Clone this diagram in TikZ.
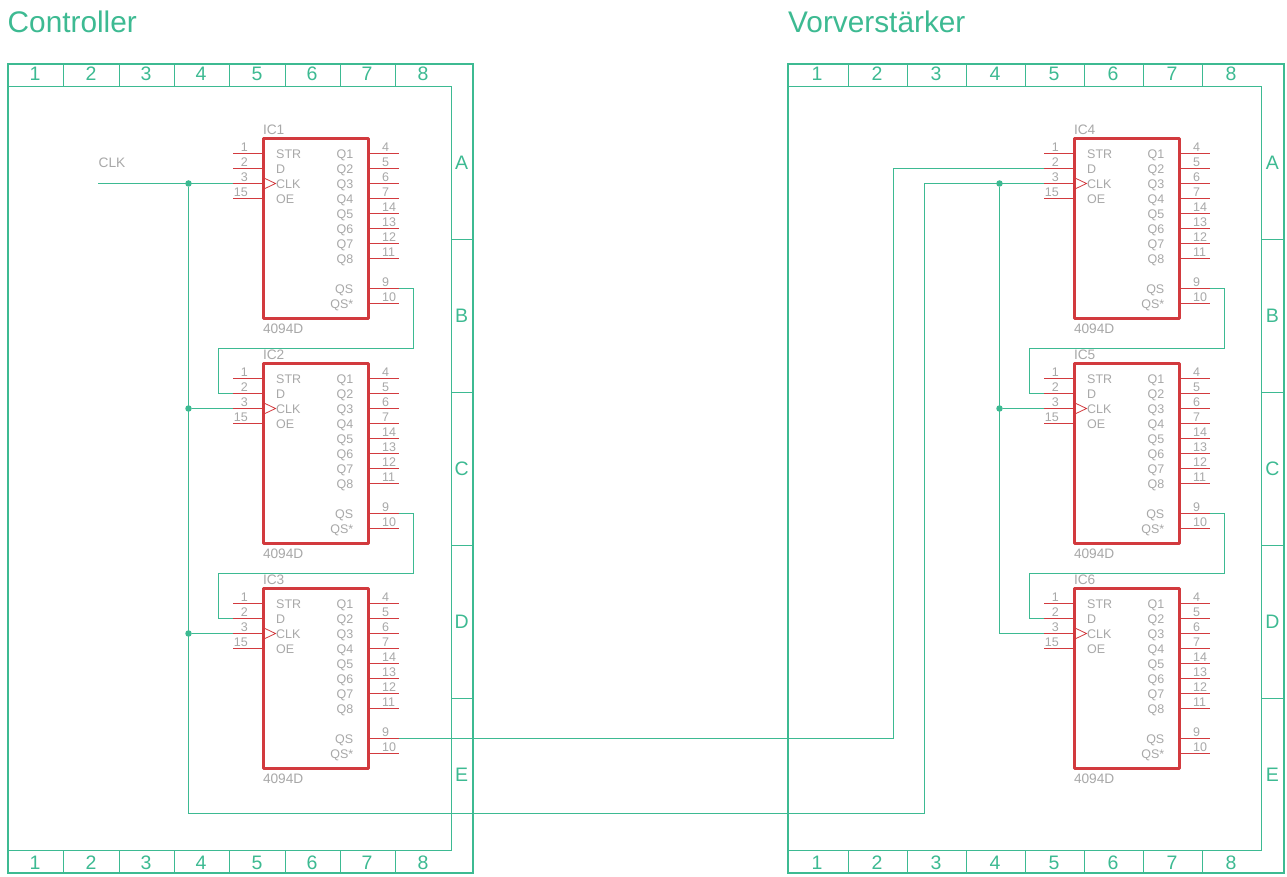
\documentclass[tikz,border=0pt]{standalone}
\usepackage{fontspec}
\setmainfont{Liberation Sans}
\definecolor{sheet}{HTML}{3DBA92}
\definecolor{part}{HTML}{D23A3E}
\definecolor{lbl}{HTML}{A8A8A8}
\tikzset{
  frameouter/.style={draw=sheet,line width=2pt},
  frameinner/.style={draw=sheet,line width=1pt},
  wire/.style={draw=sheet,line width=1pt},
  pin/.style={draw=part,line width=1pt},
  clkmark/.style={draw=part,line width=0.8pt},
  body/.style={draw=part,line width=3pt,line join=round},
  dot/.style={circle,fill=sheet,inner sep=0pt,minimum size=6.5pt},
  txt/.style={text=lbl,inner sep=0pt,font=\fontsize{12.5}{14}\selectfont},
  partname/.style={text=lbl,inner sep=0pt,font=\fontsize{13.7}{15}\selectfont},
  sheetlbl/.style={text=sheet,inner sep=0pt,font=\fontsize{19.5}{22}\selectfont},
  title/.style={text=sheet,inner sep=0pt,font=\fontsize{29.8}{32}\selectfont},
}
% #1 name, #2 box left, #3 box top
\newcommand{\icpart}[3]{%
  \begin{scope}[shift={(#2,#3)}]
    \draw[body] (0,0) rectangle (105,180);
    \node[partname,anchor=base west] (#1-name) at (-0.7,-4) {#1};
    \node[partname,anchor=base west] (#1-val) at (-0.7,194.5) {4094D};
    \foreach \n/\t/\r in {1/STR/0,2/D/1,3/CLK/2,15/OE/3}{
      \coordinate (#1-\n) at (-30.5,15+15*\r);
      \draw[pin] (#1-\n) -- (0,15+15*\r);
      \node[txt,anchor=base east] (#1-n\n) at (-15.5,13+15*\r) {\n};
      \node[txt,anchor=base west] (#1-t\n) at (12.5,20+15*\r) {\t};
    }
    \foreach \n/\t/\r in {4/Q1/0,5/Q2/1,6/Q3/2,7/Q4/3,14/Q5/4,13/Q6/5,12/Q7/6,11/Q8/7,9/QS/9,10/QS*/10}{
      \coordinate (#1-\n) at (135.5,15+15*\r);
      \draw[pin] (105,15+15*\r) -- (#1-\n);
      \node[txt,anchor=base west] (#1-n\n) at (118.5,13+15*\r) {\n};
      \node[txt,anchor=base east] (#1-t\n) at (90,20+15*\r) {\t};
    }
    \draw[clkmark] (1.5,40) -- (12,45) -- (1.5,50);
  \end{scope}
}
% #1 prefix, #2 left, #3 inner right, #4 outer right, #5 column separators, #6 centres
\newcommand{\sheetframe}[6]{%
  \draw[frameouter] (#2,63.6) rectangle (#4,872.8);
  \draw[frameinner] (#2,86.5) -- (#3,86.5) -- (#3,850.5) -- (#2,850.5);
  \foreach \s in {#5}{
    \draw[frameinner] (\s,63.6) -- (\s,86.5);
    \draw[frameinner] (\s,850.5) -- (\s,872.8);
  }
  \foreach \s in {239.5,392.5,545.5,698.5}{
    \draw[frameinner] (#3,\s) -- (#4,\s);
  }
  \foreach \c [count=\i] in {#6}{
    \node[sheetlbl,anchor=base] (#1-top\i) at (\c,81) {\i};
    \node[sheetlbl,anchor=base] (#1-bot\i) at (\c,869) {\i};
  }
  \pgfmathsetmacro{\lx}{(#3+#4)/2-0.6}
  \foreach \l/\y in {A/169.4,B/322.4,C/475.4,D/628.4,E/781.4}{
    \node[sheetlbl,anchor=base] (#1-row\l) at (\lx,\y) {\l};
  }
}
\begin{document}
\begin{tikzpicture}[x=1pt,y=-1pt]
\useasboundingbox (0,0) rectangle (1287,877);
\fill[white] (0,0) rectangle (1287,877);
\node[title,anchor=base west] (t1) at (7.5,33) {Controller};
\node[title,anchor=base west] (t2) at (788,33) {Vorverstärker};
\sheetframe{L}{7.8}{451.5}{472.8}{63.5,119.5,174.5,229.5,285.5,340.5,395.5}{35,91,146,201,257,312,367,423}
\sheetframe{R}{788}{1261.5}{1284.3}{848.5,907.5,966.5,1025.5,1084.5,1143.5,1202.5}{817,877,936,995,1054,1113,1172,1231}

\icpart{IC1}{263.5}{138.5}
\icpart{IC2}{263.5}{363.5}
\icpart{IC3}{263.5}{588.5}
\icpart{IC4}{1074.5}{138.5}
\icpart{IC5}{1074.5}{363.5}
\icpart{IC6}{1074.5}{588.5}

% clock of the controller
\coordinate (clkin) at (98,183.5);
\node[partname,anchor=base west] (clklabel) at (98.5,168) {CLK};
\node[dot] (j1) at (188.5,183.5) {};
\node[dot] (j2) at (188.5,408.5) {};
\node[dot] (j3) at (188.5,633.5) {};
\coordinate (busL) at (188.5,813.5);
\coordinate (busR) at (924.5,813.5);
\draw[wire] (clkin) -- (IC1-3);
\draw[wire] (j1) -- (busL) -- (busR) |- (IC4-3);
\draw[wire] (j2) -- (IC2-3);
\draw[wire] (j3) -- (IC3-3);

% clock of the preamp
\node[dot] (j4) at (999.5,183.5) {};
\node[dot] (j5) at (999.5,408.5) {};
\draw[wire] (j4) |- (IC6-3);
\draw[wire] (j5) -- (IC5-3);

% data chain
\coordinate (a1) at (413.5,348.5); \coordinate (b1) at (218.5,348.5);
\coordinate (a2) at (413.5,573.5); \coordinate (b2) at (218.5,573.5);
\coordinate (a4) at (1224.5,348.5); \coordinate (b4) at (1029.5,348.5);
\coordinate (a5) at (1224.5,573.5); \coordinate (b5) at (1029.5,573.5);
\coordinate (c) at (893.5,738.5);
\draw[wire] (IC1-9) -| (a1) -- (b1) |- (IC2-2);
\draw[wire] (IC2-9) -| (a2) -- (b2) |- (IC3-2);
\draw[wire] (IC3-9) -- (c) |- (IC4-2);
\draw[wire] (IC4-9) -| (a4) -- (b4) |- (IC5-2);
\draw[wire] (IC5-9) -| (a5) -- (b5) |- (IC6-2);
\end{tikzpicture}
\end{document}
